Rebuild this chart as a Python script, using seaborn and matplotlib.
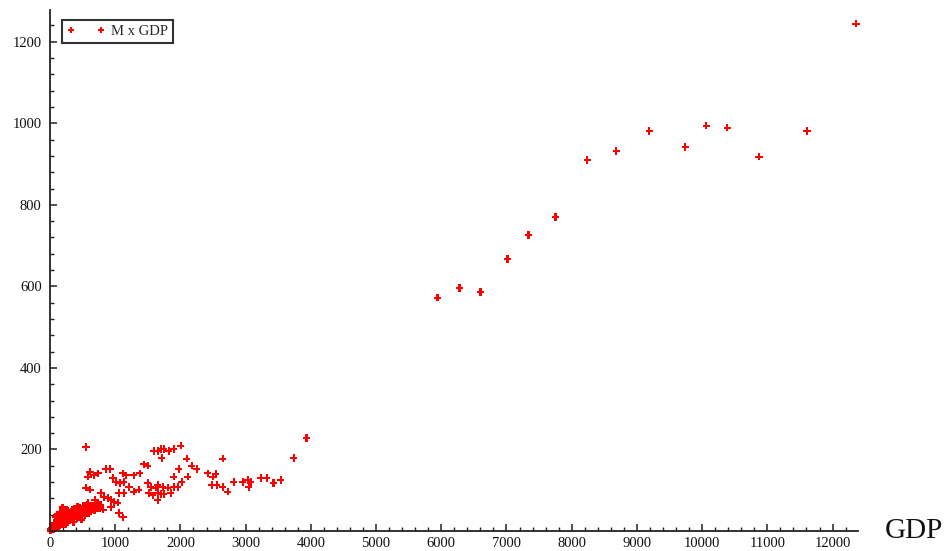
import numpy as np
import pandas as pd
import matplotlib
matplotlib.use("Agg")
import matplotlib.pyplot as plt
from matplotlib.ticker import MultipleLocator, FixedLocator
from matplotlib.lines import Line2D
import seaborn as sns

# --- data ---
cluster_x = [5, 8, 12, 10, 15, 20, 25, 30, 35, 40, 45, 50, 55, 60, 65, 70, 75, 80, 85, 90, 95,
             100, 105, 110, 115, 120, 125, 130, 135, 140, 145, 150, 155, 160, 165, 170, 175,
             180, 185, 190, 195, 200, 205, 210, 215, 220, 225, 230, 240, 245, 250, 260, 265,
             270, 280, 285, 290, 300, 310, 315, 320, 330, 340, 345, 350, 360, 370, 375, 380,
             390, 400, 410, 420, 425, 430, 440, 450, 460, 470, 480, 490, 500, 510, 520, 530,
             540, 550, 560, 575, 590, 600, 620, 640, 660, 680, 700, 720, 740, 760, 780,
             194, 107, 85, 150, 60, 368, 424, 485, 551, 613, 628, 429, 260, 689,
             130, 175, 220, 280, 335, 395, 455, 515, 570, 630, 690, 750, 120, 240, 360, 480]
cluster_y = [1, 3, 1, 2, 5, 3, 8, 4, 6, 10, 3, 7, 12, 5, 9, 14, 6, 11, 17, 8, 13,
             20, 9, 15, 22, 11, 18, 25, 12, 20, 28, 14, 23, 31, 16, 26, 19,
             34, 21, 29, 17, 37, 24, 31, 20, 27, 35, 22, 30, 40, 26, 33, 45,
             24, 36, 29, 42, 32, 27, 38, 47, 34, 30, 41, 36, 44, 33, 39, 49,
             36, 42, 31, 46, 58, 38, 44, 35, 48, 40, 52, 37, 45, 55, 42, 48,
             38, 60, 46, 52, 43, 57, 48, 54, 62, 50, 58, 66, 70, 55, 63,
             58, 39, 35, 45, 20, 54, 59, 52, 56, 47, 54, 56, 52, 76,
             32, 40, 44, 50, 52, 55, 57, 62, 64, 60, 68, 60, 8, 16, 22, 28]

mid_x = [551, 613, 582, 551, 613, 582, 704, 812, 674, 735, 858, 919, 781, 827, 888, 934, 980,
         1041, 934, 1057, 1118, 965, 1011, 1072, 1133, 1118, 1164, 1286, 1378, 1057, 1133,
         1210, 1286, 1363, 1516, 1577, 1654, 1501, 1547, 1623, 1440, 1501, 1593, 1654, 1700,
         1746, 1822, 1899, 2006, 1715, 2098, 2649, 2175, 2251, 1975, 2420, 2496, 2542, 1899,
         2113, 2021, 2818, 1654, 1730, 1807, 1899, 1960, 2481, 2557, 2649, 1654, 1700, 1746,
         1853, 2726, 2956, 3032, 3078, 3047, 3231, 3323, 3430, 3538, 3737, 3936]
mid_y = [206, 145, 133, 106, 101, 69, 56, 52, 137, 142, 152, 152, 93, 83, 81, 76, 71,
         69, 59, 44, 34, 130, 120, 118, 120, 142, 137, 137, 142, 93, 93,
         108, 96, 101, 93, 88, 76, 118, 108, 106, 164, 160, 196, 196, 201,
         201, 196, 201, 209, 179, 177, 177, 160, 152, 152, 142, 133, 140, 133,
         133, 120, 120, 113, 108, 106, 108, 108, 113, 113, 108, 93, 91, 91,
         93, 96, 120, 125, 120, 108, 130, 130, 118, 125, 179, 228]

high_x = [5942, 6279, 6600, 7014, 7335, 7749, 8239, 8683, 9188, 9740, 10061, 10383, 10873,
          11608, 12358]
high_y = [572, 596, 586, 667, 726, 770, 910, 932, 981, 942, 994, 989, 918, 981, 1244]

gdp = cluster_x + mid_x + high_x
m = cluster_y + mid_y + high_y
df = pd.DataFrame({"GDP": gdp, "M": m})

sns.set_style("white")
plt.rcParams["font.family"] = ["Liberation Serif", "DejaVu Serif"]

W, H = 947, 551
fig = plt.figure(figsize=(W / 100, H / 100), dpi=100)
ax = fig.add_axes([50 / W, 1 - 531 / H, (858 - 50) / W, (531 - 10) / H])

RED = "#ff0000"
sns.scatterplot(data=df, x="GDP", y="M", ax=ax, marker="P", color=RED,
                edgecolor="none", linewidth=0, s=27, legend=False, clip_on=False)

ax.set_xlim(0, 12390)
ax.set_ylim(0, 1278)
ax.xaxis.set_major_locator(MultipleLocator(1000))
ax.xaxis.set_minor_locator(MultipleLocator(200))
ax.yaxis.set_major_locator(FixedLocator([200, 400, 600, 800, 1000, 1200]))
ax.yaxis.set_minor_locator(MultipleLocator(40))

for s in ["top", "right"]:
    ax.spines[s].set_visible(False)
for s in ["left", "bottom"]:
    ax.spines[s].set_color("#222222")
    ax.spines[s].set_linewidth(1.3)

ax.tick_params(which="both", bottom=True, left=True, top=False, right=False)
ax.tick_params(which="major", direction="in", length=5, width=1.1, color="#222222",
               labelsize=10.5, labelcolor="#111111", pad=4)
ax.tick_params(which="minor", direction="in", length=3, width=1.0, color="#222222")
ax.tick_params(axis="y", which="major", pad=6)

ax.set_xlabel("")
ax.set_ylabel("")
fig.text(885 / W, 1 - 531 / H, "GDP", fontsize=21, va="center", ha="left", color="#111111")

handle = Line2D([], [], marker="P", linestyle="none", color=RED, markeredgewidth=0,
                markersize=4.8)
leg = ax.legend(handles=[handle], labels=["M x GDP"], loc="upper left",
                bbox_to_anchor=(62 / W, 1 - 20 / H), bbox_transform=fig.transFigure,
                borderaxespad=0, numpoints=2, fancybox=False, frameon=True, fontsize=10.5,
                handlelength=2.6, handletextpad=0.4, borderpad=0.35)
leg.get_frame().set_edgecolor("black")
leg.get_frame().set_linewidth(1.5)

fig.savefig("out.png", dpi=100)
